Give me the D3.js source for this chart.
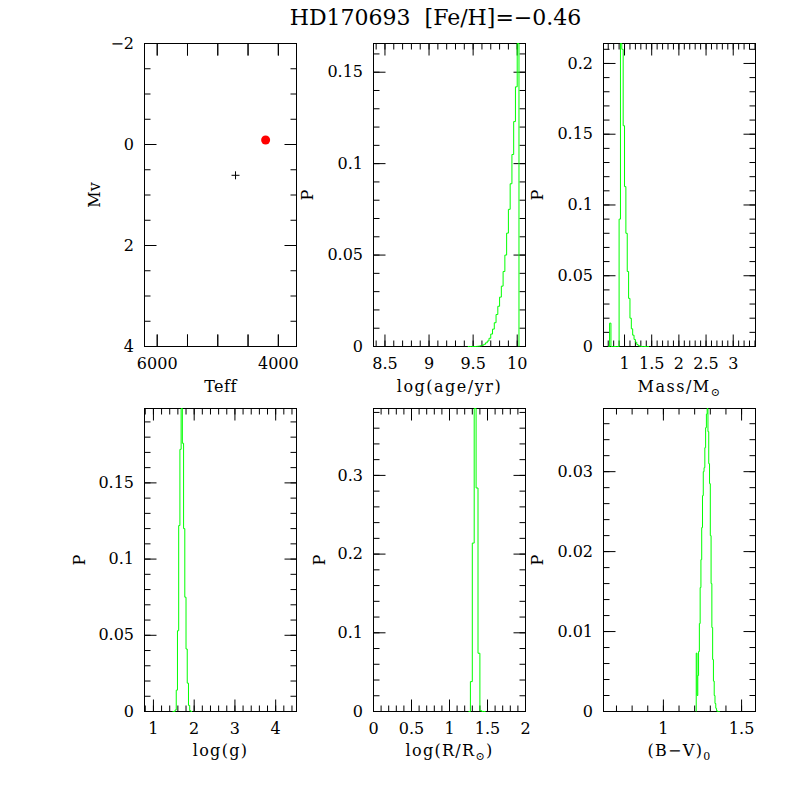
<!DOCTYPE html>
<html><head><meta charset="utf-8">
<script src="https://cdn.jsdelivr.net/npm/d3@7"></script>
<style>body{margin:0;background:#fff}svg{display:block}</style>
</head><body><svg id="c" width="797" height="797"></svg>
<script>
// ---------------- data ----------------
const titleText = "HD170693  [Fe/H]=\u22120.46";

// HR diagram
const hrTeffTicks = [6000, 5500, 5000, 4500, 4000];
const hrTeffLabels = ["6000", "", "", "", "4000"];
const hrMvTicks = [-2, 0, 2, 4];
const hrMvLabels = ["\u22122", "0", "2", "4"];
const starTeff = [4210];
const starMv = [-0.09];
const modelTeff = [4707];
const modelMv = [0.61];

// log(age/yr) histogram
const ageBinStart = [9.44, 9.46, 9.48, 9.50, 9.52, 9.54, 9.56, 9.58, 9.60, 9.62, 9.64, 9.66, 9.68, 9.70, 9.72, 9.74, 9.76, 9.78, 9.80, 9.82, 9.84, 9.86, 9.88, 9.90, 9.92, 9.94, 9.96, 9.98, 10.00];
const ageP = [0, 0, 0, 0, 0, 0.0001, 0.0002, 0.0004, 0.0007, 0.0012, 0.002, 0.003, 0.0045, 0.0068, 0.0095, 0.013, 0.0175, 0.022, 0.027, 0.033, 0.041, 0.050, 0.062, 0.075, 0.089, 0.105, 0.123, 0.142, 0.1657];
const ageTicks = [8.5, 9, 9.5, 10];
const ageTickLabels = ["8.5", "9", "9.5", "10"];

// Mass histogram
const massBinStart = [0.700, 0.725, 0.750, 0.775, 0.800, 0.825, 0.850, 0.875, 0.900, 0.925, 0.950, 0.975, 1.000, 1.025, 1.050, 1.075, 1.100, 1.125, 1.150, 1.175, 1.200, 1.225, 1.250, 1.275, 1.300, 1.325, 1.350, 1.375, 1.400, 1.425];
const massP = [0, 0.0165, 0, 0, 0, 0, 0, 0, 0.090, 0.2141, 0.21, 0.156, 0.113, 0.080, 0.053, 0.034, 0.020, 0.0125, 0.008, 0.005, 0.003, 0.0014, 0.0006, 0.0002, 0, 0, 0, 0, 0, 0];
const massTicks = [1, 1.5, 2, 2.5, 3];
const massTickLabels = ["1", "1.5", "2", "2.5", "3"];

// log(g) histogram
const loggBinStart = [1.47, 1.50, 1.53, 1.56, 1.59, 1.62, 1.65, 1.68, 1.71, 1.74, 1.77, 1.80, 1.83, 1.86, 1.89, 1.92];
const loggP = [0, 0, 0.001, 0.014, 0.053, 0.122, 0.172, 0.1988, 0.176, 0.12, 0.075, 0.041, 0.0186, 0.004, 0.0005, 0];
const loggTicks = [1, 2, 3, 4];
const loggTickLabels = ["1", "2", "3", "4"];

// log(R/Rsun) histogram
const radBinStart = [1.25, 1.275, 1.30, 1.325, 1.35, 1.375, 1.40, 1.425, 1.45];
const radP = [0, 0.038, 0.214, 0.385, 0.284, 0.074, 0.001, 0, 0];
const radTicks = [0, 0.5, 1, 1.5, 2];
const radTickLabels = ["0", "0.5", "1", "1.5", "2"];

// (B-V)0 histogram
const bvBinStart = [1.210, 1.215, 1.220, 1.225, 1.230, 1.235, 1.240, 1.245, 1.250, 1.255, 1.260, 1.265, 1.270, 1.275, 1.280, 1.285, 1.290, 1.295, 1.300, 1.305, 1.310, 1.315, 1.320, 1.325, 1.330, 1.335, 1.340, 1.345, 1.350, 1.355];
const bvP = [0.0073, 0.002, 0.0045, 0.0075, 0.011, 0.0155, 0.019, 0.023, 0.027, 0.030, 0.0305, 0.033, 0.0355, 0.0372, 0.0379, 0.035, 0.031, 0.0285, 0.022, 0.016, 0.0105, 0.0065, 0.0038, 0.002, 0.001, 0.0004, 0.0001, 0, 0, 0];
const bvTicks = [1, 1.5];
const bvTickLabels = ["1", "1.5"];

// ---------------- drawing ----------------
const svg = d3.select("#c");
const FONT = "DejaVu Serif";
const colL = [144.5, 373.5, 603.5], colW = 152;
const rowT = [43.5, 408.5], rowH = 303;

svg.append("text").attr("x", 435.5).attr("y", 25).attr("text-anchor", "middle")
  .style("white-space", "pre").attr("xml:space", "preserve")
  .attr("font-family", FONT).attr("font-size", 22).text(titleText);

function fmtP(d) { return d === 0 ? "0" : String(+d.toFixed(4)); }
function stepTicks(domain, step) {
  const lo = Math.min(domain[0], domain[1]), hi = Math.max(domain[0], domain[1]);
  const out = [];
  for (let v = Math.ceil(lo / step - 1e-9) * step; v <= hi + 1e-9; v += step) out.push(+v.toFixed(6));
  return out;
}

function panel(cfg) {
  const L = colL[cfg.col], T = rowT[cfg.row], R = L + colW, B = T + rowH;
  const x = d3.scaleLinear().domain(cfg.xDomain).range([L, R]);
  const y = d3.scaleLinear().domain(cfg.yDomain).range([B, T]);
  const g = svg.append("g");
  const clipId = "clip" + cfg.col + cfg.row;
  svg.append("clipPath").attr("id", clipId).append("rect")
    .attr("x", L).attr("y", T - 0.5).attr("width", colW).attr("height", rowH + 1);

  function ax(gen, scale, vals, size, tx, ty, labels) {
    const a = gen(scale).tickValues(vals).tickSize(size).offset(0);
    if (labels) a.tickFormat(labels).tickPadding(gen === d3.axisBottom ? 11.5 : 10.5);
    else a.tickFormat("");
    const ag = g.append("g").attr("transform", `translate(${tx},${ty})`).call(a);
    ag.select(".domain").remove();
    ag.attr("font-family", FONT).attr("font-size", 16);
    ag.selectAll("text").attr("fill", "#000");
    ag.selectAll("line").attr("stroke", "#000");
  }
  const xMinor = stepTicks(cfg.xDomain, cfg.xMinor);
  const yMinor = stepTicks(cfg.yDomain, cfg.yMinor);
  // minor ticks
  ax(d3.axisBottom, x, xMinor, cfg.xAllMajor ? -12 : -6, 0, B);
  ax(d3.axisTop, x, xMinor, cfg.xAllMajor ? -12 : -6, 0, T);
  ax(d3.axisLeft, y, yMinor, -6, L, 0);
  ax(d3.axisRight, y, yMinor, -6, R, 0);
  // major ticks + labels
  ax(d3.axisBottom, x, cfg.xTicks, -12, 0, B, (d, i) => cfg.xLabels[i]);
  ax(d3.axisTop, x, cfg.xTicks, -12, 0, T);
  ax(d3.axisLeft, y, cfg.yTicks, -12, L, 0, (d, i) => cfg.yLabels ? cfg.yLabels[i] : fmtP(d));
  ax(d3.axisRight, y, cfg.yTicks, -12, R, 0);

  // frame
  g.append("rect").attr("x", L).attr("y", T).attr("width", colW).attr("height", rowH)
    .attr("fill", "none").attr("stroke", "#000").attr("stroke-width", 1);

  // axis titles
  const xt = g.append("text").attr("x", (L + R) / 2).attr("y", cfg.row === 0 ? 392 : 756)
    .attr("text-anchor", "middle").attr("font-family", FONT).attr("font-size", 16)
    .attr("letter-spacing", cfg.titleSpacing || 0);
  cfg.xTitle(xt);
  g.append("text").attr("transform", `translate(${cfg.yTitleX},${(T + B) / 2}) rotate(-90)`)
    .attr("text-anchor", "middle").attr("dy", "0.36em").attr("font-family", FONT).attr("font-size", 16)
    .text(cfg.yTitle);

  // histogram
  if (cfg.bins) {
    const w = cfg.binW, n = cfg.bins.length;
    const pts = [[cfg.bins[0], 0]].concat(cfg.bins.map((s, i) => [s, cfg.vals[i]]))
      .concat([[cfg.bins[n - 1] + w, 0]]);
    const line = d3.line().x(d => x(d[0])).y(d => y(d[1])).curve(d3.curveStepAfter);
    g.append("path").attr("d", line(pts)).attr("fill", "none").attr("stroke", "#00ff00")
      .attr("stroke-width", 1).attr("clip-path", `url(#${clipId})`);
  }
  if (cfg.extra) cfg.extra(g, x, y);
}

function sub(t, main, subs, after) {
  t.append("tspan").text(main);
  t.append("tspan").attr("font-size", 11).attr("dy", 4).text(subs);
  if (after) t.append("tspan").attr("dy", -4).text(after);
}

// Panel 1: HR diagram
panel({
  col: 0, row: 0, xDomain: [6210, 3700], yDomain: [4, -2],
  xTicks: hrTeffTicks, xLabels: hrTeffLabels, xMinor: 500, xAllMajor: true,
  yTicks: hrMvTicks, yLabels: hrMvLabels, yMinor: 0.5,
  xTitle: t => t.text("Teff"), yTitle: "Mv", yTitleX: 94.5, titleSpacing: 0.5,
  extra: (g, x, y) => {
    g.selectAll("circle.star").data(starTeff).join("circle")
      .attr("cx", d => x(d)).attr("cy", (d, i) => y(starMv[i])).attr("r", 4.5).attr("fill", "#ff0000");
    g.selectAll("path.model").data(modelTeff).join("path")
      .attr("d", (d, i) => {
        const cx = x(d), cy = y(modelMv[i]);
        return `M${cx - 4},${cy}H${cx + 4}M${cx},${cy - 4}V${cy + 4}`;
      }).attr("stroke", "#000").attr("stroke-width", 1);
  }
});

// Panel 2: age
panel({
  col: 1, row: 0, xDomain: [8.37, 10.094], yDomain: [0, 0.1657],
  xTicks: ageTicks, xLabels: ageTickLabels, xMinor: 0.1,
  yTicks: [0, 0.05, 0.1, 0.15], yMinor: 0.01,
  xTitle: t => t.text("log(age/yr)"), yTitle: "P", yTitleX: 307.5, titleSpacing: 1.5,
  bins: ageBinStart, vals: ageP, binW: 0.02
});

// Panel 3: mass
panel({
  col: 2, row: 0, xDomain: [0.613, 3.41], yDomain: [0, 0.2141],
  xTicks: massTicks, xLabels: massTickLabels, xMinor: 0.1,
  yTicks: [0, 0.05, 0.1, 0.15, 0.2], yMinor: 0.01,
  xTitle: t => sub(t, "Mass/M", "\u2299"), yTitle: "P", yTitleX: 537.5, titleSpacing: 1.5,
  bins: massBinStart, vals: massP, binW: 0.025
});

// Panel 4: log g
panel({
  col: 0, row: 1, xDomain: [0.781, 4.511], yDomain: [0, 0.1988],
  xTicks: loggTicks, xLabels: loggTickLabels, xMinor: 0.2,
  yTicks: [0, 0.05, 0.1, 0.15], yMinor: 0.01,
  xTitle: t => t.text("log(g)"), yTitle: "P", yTitleX: 79, titleSpacing: 1.3,
  bins: loggBinStart, vals: loggP, binW: 0.03
});

// Panel 5: log R
panel({
  col: 1, row: 1, xDomain: [0, 2], yDomain: [0, 0.385],
  xTicks: radTicks, xLabels: radTickLabels, xMinor: 0.1,
  yTicks: [0, 0.1, 0.2, 0.3], yMinor: 0.02,
  xTitle: t => sub(t, "log(R/R", "\u2299", ")"), yTitle: "P", yTitleX: 319, titleSpacing: 1.3,
  bins: radBinStart, vals: radP, binW: 0.025
});

// Panel 6: B-V
panel({
  col: 2, row: 1, xDomain: [0.617, 1.589], yDomain: [0, 0.0379],
  xTicks: bvTicks, xLabels: bvTickLabels, xMinor: 0.1,
  yTicks: [0, 0.01, 0.02, 0.03], yMinor: 0.002,
  xTitle: t => sub(t, "(B\u2212V)", "0"), yTitle: "P", yTitleX: 537.5, titleSpacing: 1.3,
  bins: bvBinStart, vals: bvP, binW: 0.005
});
</script></body></html>
